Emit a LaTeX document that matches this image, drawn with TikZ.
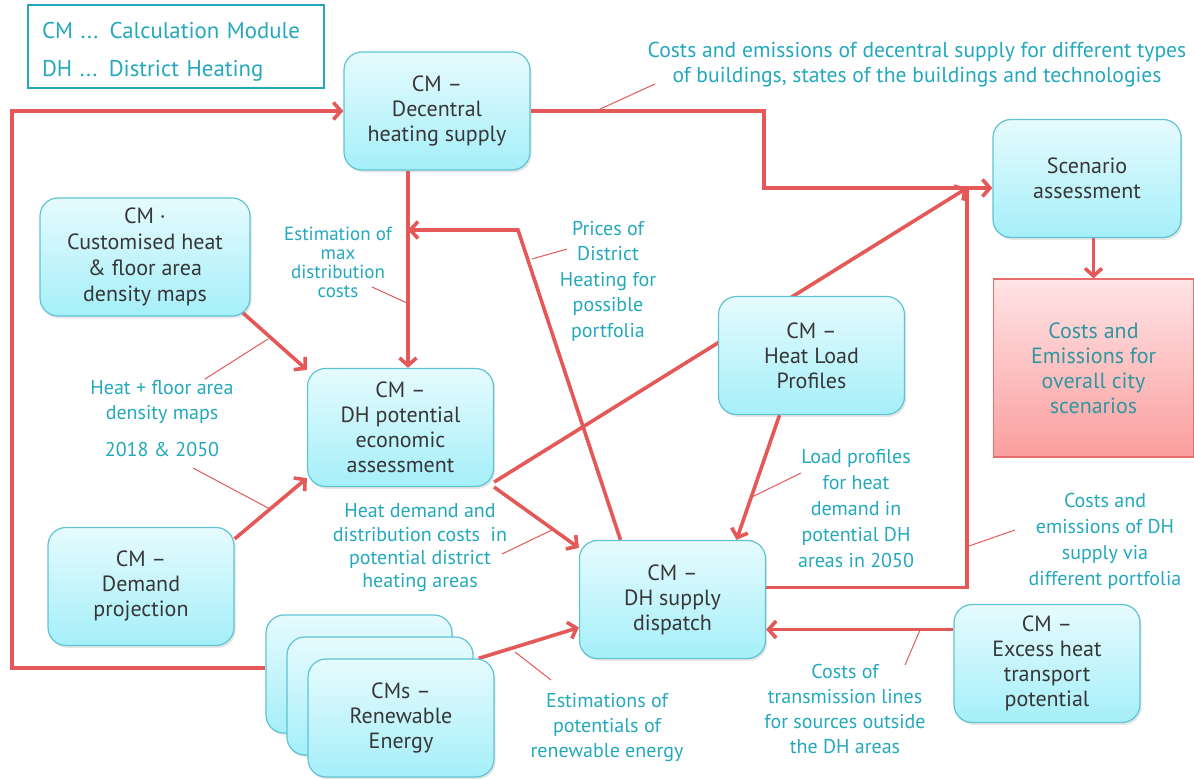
\documentclass[tikz,border=0pt]{standalone}
\usepackage{fontspec}
\setmainfont{PT Sans}
\usetikzlibrary{arrows.meta,shadows}

\definecolor{boxline}{RGB}{95,195,210}
\definecolor{boxtop}{RGB}{230,251,254}
\definecolor{boxbot}{RGB}{165,239,249}
\definecolor{boxtext}{RGB}{55,55,55}
\definecolor{flowred}{RGB}{228,88,88}
\definecolor{labteal}{RGB}{36,168,188}
\definecolor{redtop}{RGB}{255,228,230}
\definecolor{redbot}{RGB}{250,158,158}
\definecolor{redline}{RGB}{232,110,110}
\definecolor{redtext}{RGB}{48,150,160}

\pgfdeclarelayer{background}
\pgfsetlayers{background,main}

\tikzset{
  cmbox/.style={draw=boxline, line width=0.6pt, rounded corners=9pt,
    top color=boxtop, bottom color=boxbot, text=boxtext, align=center,
    font=\fontsize{11}{12.5}\selectfont, minimum width=93pt, minimum height=59pt,
    inner sep=2pt, drop shadow={opacity=0.2, shadow xshift=0.8pt, shadow yshift=-1.2pt}},
  resbox/.style={draw=redline, line width=0.6pt, top color=redtop, bottom color=redbot,
    text=redtext, align=center, font=\fontsize{11}{12.5}\selectfont,
    minimum width=100pt, minimum height=89pt, inner sep=2pt},
  legbox/.style={draw=labteal, line width=1.2pt, text=labteal, align=left,
    font=\fontsize{11.4}{19}\selectfont, text width=134pt, inner xsep=7pt, minimum height=41.5pt},
  lab/.style={text=labteal, align=center, font=\fontsize{10}{12.5}\selectfont, inner sep=0pt},
  flow/.style={draw=flowred, line width=1.8pt, -{Straight Barb[length=3.8pt,width=8.5pt]}},
  flowline/.style={draw=flowred, line width=1.8pt},
  note/.style={draw=flowred, line width=0.5pt}
}

\begin{document}
\begin{tikzpicture}[x=0.5pt, y=-0.5pt]
\useasboundingbox (0,0) rectangle (1194,779);

\node[legbox] (leg) at (176,46.5) {\rule{0pt}{13pt}CM ... Calculation Module\\DH ... District Heating};

% modules
\node[cmbox] (dec) at (437,111) {CM –\\Decentral\\heating supply};
\node[cmbox, minimum width=105pt, font=\fontsize{11}{13}\selectfont] (cus) at (145,257) {CM ·\\Customised heat\\\& floor area\\density maps};
\node[cmbox] (dhp) at (400.5,427.5) {CM –\\DH potential\\economic\\assessment};
\node[cmbox] (dem) at (141,586.5) {CM –\\Demand\\projection};
\node[cmbox] (hlp) at (811.5,355.5) {CM –\\Heat Load\\Profiles};
\node[cmbox, minimum width=94pt] (scen) at (1087,178.5) {Scenario\\assessment};
\node[cmbox] (dhs) at (672.5,599.5) {CM –\\DH supply\\dispatch};
\node[cmbox] (exc) at (1047,663.5) {CM –\\Excess heat\\transport\\potential};
\node[cmbox] (re3) at (359,674) {};
\node[cmbox] (re2) at (380,696) {};
\node[cmbox] (re1) at (401,718) {CMs –\\Renewable\\Energy};
\node[resbox] (res) at (1093.5,368) {Costs and\\Emissions for\\overall city\\scenarios};

% labels
\node[lab, font=\fontsize{10.8}{12.5}\selectfont] (tdec) at (917,65) {Costs and emissions of decentral supply for different types\\of buildings, states of the buildings and technologies};
\node[lab, font=\fontsize{9.5}{9.5}\selectfont] (test) at (338,262) {Estimation of\\max\\distribution\\costs};
\node[lab, font=\fontsize{10}{12.75}\selectfont] (tpri) at (608,281) {Prices of\\District\\Heating for\\possible\\portfolia};
\node[lab] (thfa) at (162,419) {Heat + floor area\\density maps\\[6pt]2018 \& 2050};
\node[lab, font=\fontsize{10}{11.7}\selectfont] (tdem) at (420,548) {Heat demand and\\distribution costs~ in\\potential district\\heating areas};
\node[lab, font=\fontsize{10}{12.9}\selectfont] (tlp) at (856,508.5) {Load profiles\\for heat\\demand in\\potential DH\\areas in 2050};
\node[lab, font=\fontsize{10}{13}\selectfont] (tdhs) at (1105,541) {Costs and\\emissions of DH\\supply via\\different portfolia};
\node[lab] (tren) at (607,728) {Estimations of\\potentials of\\renewable energy};
\node[lab] (ttra) at (845,709.5) {Costs of\\transmission lines\\for sources outside\\the DH areas};

\coordinate (xv) at (408,0);
\coordinate (loopx) at (12,0);
\coordinate (stepA) at (764,188);
\coordinate (joinS) at (967,188);
\coordinate (priceK) at (518,230);
\coordinate (excA) at ([yshift=17pt]exc.west);

\begin{pgfonlayer}{background}
\draw[flow] ([yshift=3pt]re3.west) -- ([yshift=3pt]re3.west -| loopx) |- (dec.west);
\draw[flow] (dec.east) -| (stepA) -- (stepA -| scen.west);
\draw[flow] (dec.south -| xv) -- (dhp.north -| xv);
\draw[flow] ([xshift=-26pt]dhs.north) -- (priceK) -- (priceK -| xv);
\draw[flow] ([xshift=-4pt,yshift=2pt]cus.south east) -- ([yshift=-1pt]dhp.north west);
\draw[flow] ([yshift=-6pt]dem.north east) -- ([yshift=4.5pt]dhp.south west);
\draw[flow] (dhp.south east) -- ([yshift=-4pt]dhs.north west);
\draw[flow] ([yshift=2.5pt]dhp.south east) -- (joinS);
\draw[flowline] ([yshift=6pt]dhs.east) -| (joinS);
\draw[flow] ([xshift=-16pt]hlp.south) -- ([xshift=32pt]dhs.north);
\draw[flow] (scen.south -| res.north) -- (res.north);
\draw[flow] (excA) -- (excA -| dhs.east);
\draw[flow] ([xshift=-8pt]re1.north east) -- ([yshift=-14pt]dhs.west);

% leaders
\draw[note] (655,84) -- (598,110);
\draw[note] (372,287) -- (407,303);
\draw[note] (567,249) -- (532,259);
\draw[note] (205,379) -- (268,339);
\draw[note] (193,468) -- (270,509);
\draw[note] (502,554) -- (552,530);
\draw[note] (801,473) -- (752,497);
\draw[note] (1015,530) -- (969,546);
\draw[note] (551,680) -- (515,652);
\draw[note] (905,665) -- (920,630);
\end{pgfonlayer}
\end{tikzpicture}
\end{document}
